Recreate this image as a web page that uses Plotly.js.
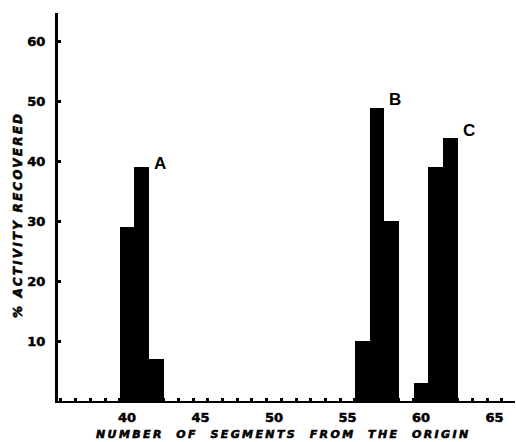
<!DOCTYPE html>
<html>
<head>
<meta charset="utf-8">
<script src="https://cdn.plot.ly/plotly-3.0.1.min.js"></script>
<style>
html,body{margin:0;padding:0;background:#fff;}
#chart{width:516px;height:442px;}
.xtick text, .ytick text {stroke:#000; stroke-width:0.5px;}
</style>
</head>
<body>
<div id="chart"></div>
<script>
// Peak A
const segmentsA = [40, 41, 42];
const activityA = [29, 39, 7];
// Peak B
const segmentsB = [56, 57, 58];
const activityB = [10, 49, 30];
// Peak C
const segmentsC = [60, 61, 62];
const activityC = [3, 39, 44];

const peakLabels = ['A', 'B', 'C'];
const yTickVals = [10, 20, 30, 40, 50, 60];
const xTickVals = [40, 45, 50, 55, 60, 65];

const xTitle = 'NUMBER  OF  SEGMENTS  FROM  THE  ORIGIN';
const yTitle = '% ACTIVITY RECOVERED';

function barTrace(x, y, name) {
  return {
    type: 'bar', x: x, y: y, name: name, width: 1,
    marker: {color: '#000', line: {width: 0}},
    hoverinfo: 'x+y', showlegend: false
  };
}

const data = [
  barTrace(segmentsA, activityA, 'A'),
  barTrace(segmentsB, activityB, 'B'),
  barTrace(segmentsC, activityC, 'C')
];

const labelFont = {family: 'Liberation Sans, Arial, sans-serif', size: 17, weight: 'bold', color: '#000'};
const titleFont = {family: 'DejaVu Sans, sans-serif', size: 11, weight: 'bold', style: 'italic', color: '#000'};
const heavy = 'stroke:#000;stroke-width:0.6px;';

const layout = {
  width: 516, height: 442,
  margin: {l: 58, r: 1, t: 13, b: 41, pad: 0},
  paper_bgcolor: '#fff', plot_bgcolor: '#fff',
  barmode: 'overlay', bargap: 0,
  showlegend: false,
  xaxis: {
    range: [35.3, 66.4],
    tickmode: 'array', tickvals: xTickVals,
    ticks: '', showgrid: false, zeroline: false,
    showline: true, linecolor: '#000', linewidth: 2,
    layer: 'below traces',
    ticklabelstandoff: 3,
    tickfont: {family: 'DejaVu Sans, sans-serif', size: 13, weight: 'bold', color: '#000'},
    minor: {tick0: 0.5, dtick: 1, ticks: 'inside', ticklen: 3, tickwidth: 3, tickcolor: '#000', showgrid: false}
  },
  yaxis: {
    range: [0, 64.8],
    tickmode: 'array', tickvals: yTickVals,
    ticks: 'inside', ticklen: 3, tickwidth: 3, tickcolor: '#000',
    showgrid: false, zeroline: false,
    showline: true, linecolor: '#000', linewidth: 3,
    layer: 'below traces',
    ticklabelstandoff: 7,
    tickfont: {family: 'DejaVu Sans, sans-serif', size: 13, weight: 'bold', color: '#000'}
  },
  annotations: [
    {xref: 'x', yref: 'y', x: 42.25, y: 39.6, text: peakLabels[0], showarrow: false, font: labelFont},
    {xref: 'x', yref: 'y', x: 58.25, y: 50.3, text: peakLabels[1], showarrow: false, font: labelFont},
    {xref: 'x', yref: 'y', x: 63.25, y: 45.2, text: peakLabels[2], showarrow: false, font: labelFont},
    {xref: 'paper', yref: 'paper', x: 0.4945, y: -0.0875, xanchor: 'center', yanchor: 'middle',
     text: '<span style="letter-spacing:2.4px;' + heavy + '">' + xTitle + '</span>', showarrow: false, font: titleFont},
    {xref: 'paper', yref: 'paper', x: -0.089, y: 0.48, xanchor: 'center', yanchor: 'middle', textangle: -90,
     text: '<span style="letter-spacing:2.2px;' + heavy + '">' + yTitle + '</span>', showarrow: false,
     font: Object.assign({}, titleFont, {size: 12})}
  ]
};

Plotly.newPlot('chart', data, layout, {displayModeBar: false, staticPlot: true});
</script>
</body>
</html>
